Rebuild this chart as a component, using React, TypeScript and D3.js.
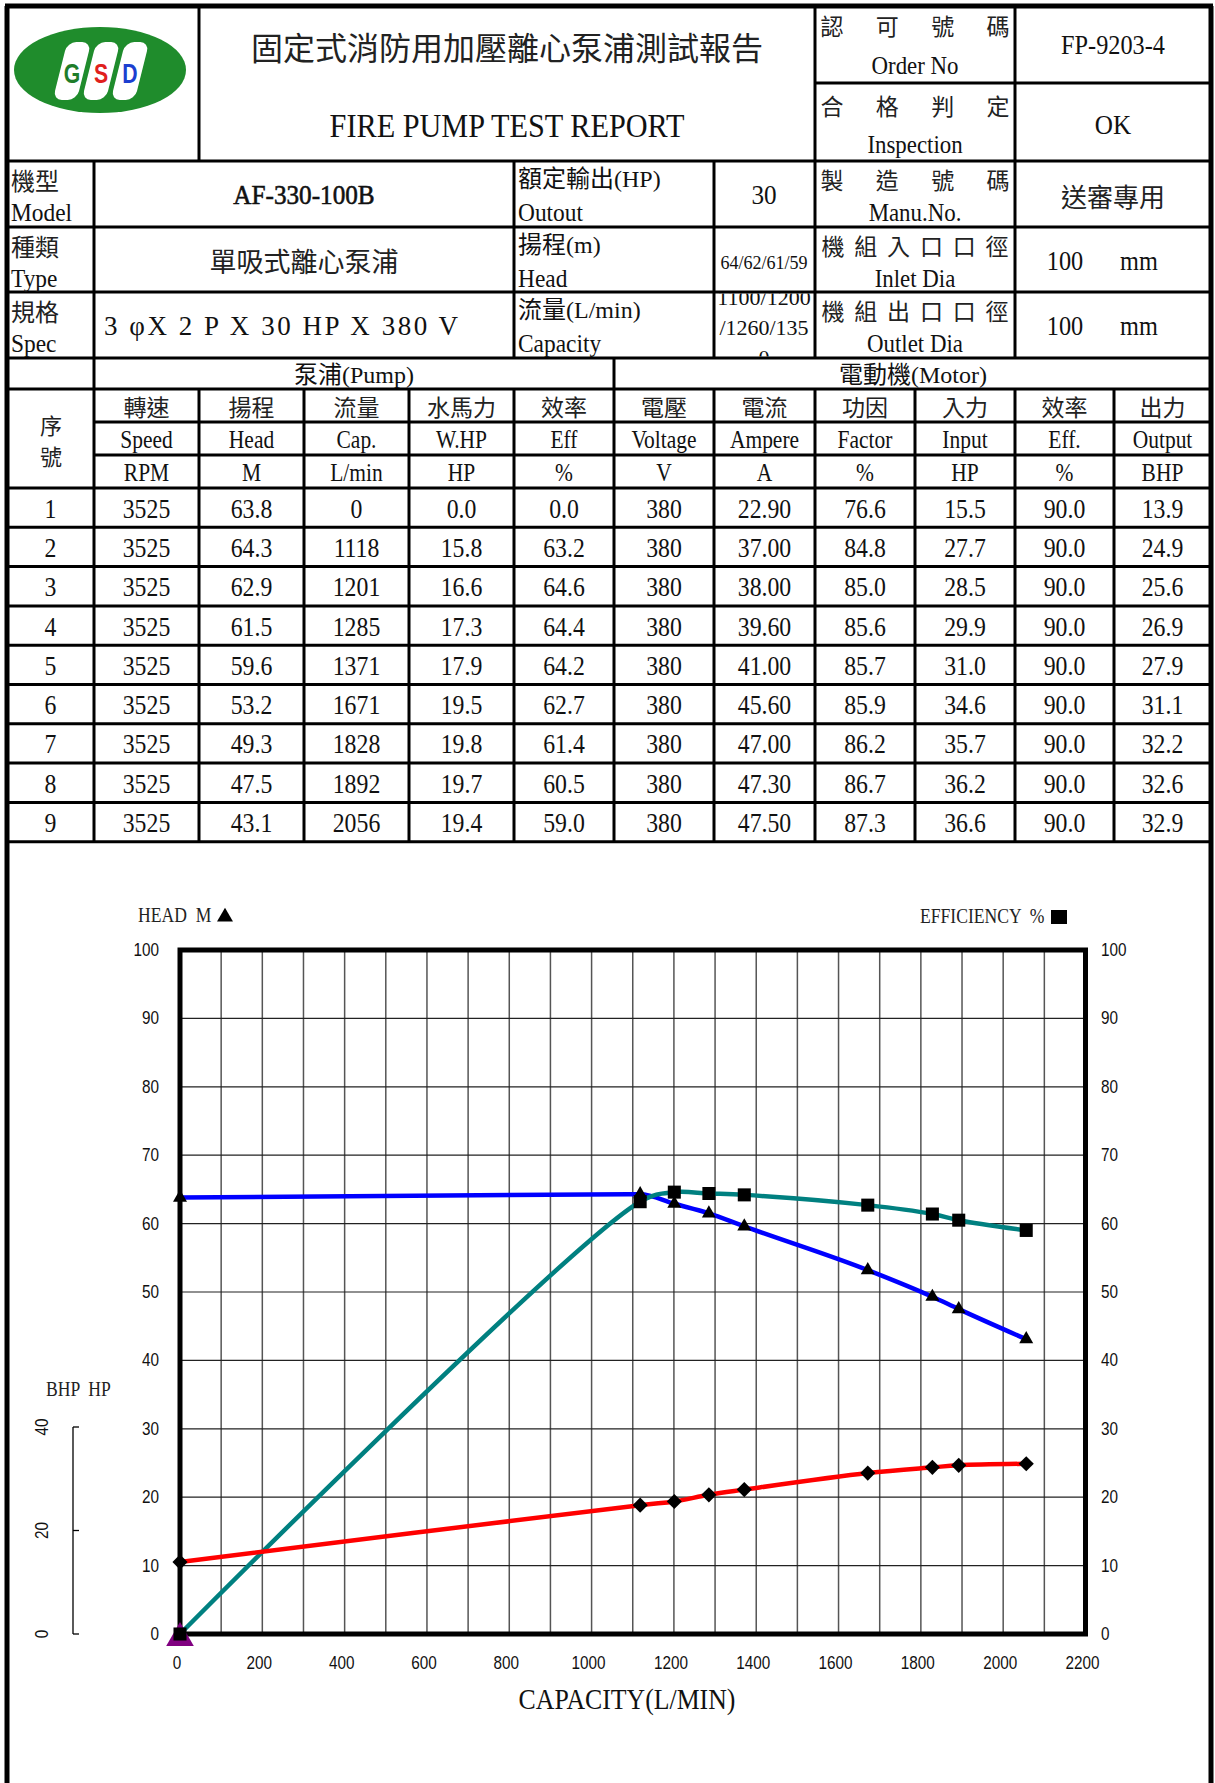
import React from "react";
import * as d3 from "d3";

const SERIF = "'Liberation Serif', 'Noto Sans CJK TC', serif";
const CJK = "'Noto Sans CJK TC', 'Liberation Serif', serif";
const SANS = "'Liberation Sans', 'DejaVu Sans', sans-serif";

// ---- test data ----
const rowNo = [1, 2, 3, 4, 5, 6, 7, 8, 9];
const speed = [3525, 3525, 3525, 3525, 3525, 3525, 3525, 3525, 3525];
const head = [63.8, 64.3, 62.9, 61.5, 59.6, 53.2, 49.3, 47.5, 43.1];
const capacity = [0, 1118, 1201, 1285, 1371, 1671, 1828, 1892, 2056];
const whp = [0.0, 15.8, 16.6, 17.3, 17.9, 19.5, 19.8, 19.7, 19.4];
const pumpEff = [0.0, 63.2, 64.6, 64.4, 64.2, 62.7, 61.4, 60.5, 59.0];
const voltage = [380, 380, 380, 380, 380, 380, 380, 380, 380];
const ampere = [22.9, 37.0, 38.0, 39.6, 41.0, 45.6, 47.0, 47.3, 47.5];
const powerFactor = [76.6, 84.8, 85.0, 85.6, 85.7, 85.9, 86.2, 86.7, 87.3];
const inputHp = [15.5, 27.7, 28.5, 29.9, 31.0, 34.6, 35.7, 36.2, 36.6];
const motorEff = [90.0, 90.0, 90.0, 90.0, 90.0, 90.0, 90.0, 90.0, 90.0];
const bhp = [13.9, 24.9, 25.6, 26.9, 27.9, 31.1, 32.2, 32.6, 32.9];

const colZh = ["轉速", "揚程", "流量", "水馬力", "效率", "電壓", "電流", "功因", "入力", "效率", "出力"];
const colEn = ["Speed", "Head", "Cap.", "W.HP", "Eff", "Voltage", "Ampere", "Factor", "Input", "Eff.", "Output"];
const colUnit = ["RPM", "M", "L/min", "HP", "%", "V", "A", "%", "HP", "%", "BHP"];

const xTicks = d3.range(0, 2201, 200);
const yTicks = d3.range(0, 101, 10);
const bhpTicks = [0, 20, 40];

const T = ({ x, y, s = 26, sx = 1, a = "middle", f = SERIF, fill = "#111", children, ...rest }: any) => (
  <text
    transform={`translate(${x},${y}) scale(${sx},1)`}
    textAnchor={a}
    dominantBaseline="central"
    fontSize={s}
    fontFamily={f}
    fill={fill}
    style={{ whiteSpace: "pre" }}
    {...rest}
  >
    {children}
  </text>
);

const Spread = ({ text, x0, x1, y, s = 23 }: any) => {
  const chars = Array.from(text as string);
  const sc = d3.scalePoint().domain(chars.map((_, i) => String(i))).range([x0, x1]);
  return (
    <>
      {chars.map((c, i) => (
        <T key={i} x={sc(String(i))} y={y} s={s} f={CJK} fill="#222">
          {c}
        </T>
      ))}
    </>
  );
};

export default function App() {
  const W = 1215;
  const H = 1783;

  // table layout
  const L = 7;
  const R = 1211;
  const colX = [L, 94, 199, 304, 409, 514, 614, 714, 815, 915, 1015, 1114, R];
  const yTop = 6, ySplit = 83, yHead = 161, yR3 = 227, yR4 = 292, yR5 = 358, yH1 = 389, yH2 = 422, yH3 = 455, yData = 488;
  const rowH = 39.3;
  const yEnd = yData + rowNo.length * rowH;

  const tableRows = rowNo.map((n, i) => [
    String(n),
    String(speed[i]),
    head[i].toFixed(1),
    String(capacity[i]),
    whp[i].toFixed(1),
    pumpEff[i].toFixed(1),
    String(voltage[i]),
    ampere[i].toFixed(2),
    powerFactor[i].toFixed(1),
    inputHp[i].toFixed(1),
    motorEff[i].toFixed(1),
    bhp[i].toFixed(1),
  ]);

  const hLines: [number, number, number][] = [
    [ySplit, 815, R],
    [yHead, L, R],
    [yR3, L, R],
    [yR4, L, R],
    [yR5, L, R],
    [yH1, L, R],
    [yH2, 94, R],
    [yH3, 94, R],
    ...d3.range(0, rowNo.length + 1).map((i) => [yData + i * rowH, L, R] as [number, number, number]),
  ];
  const vLines: [number, number, number][] = [
    [199, yTop, yHead],
    [815, yTop, yHead],
    [1015, yTop, yHead],
    ...[94, 514, 714, 815, 1015].map((v) => [v, yHead, yR5] as [number, number, number]),
    [94, yR5, yH1],
    [614, yR5, yH1],
    ...colX.slice(1, -1).map((v) => [v, yH1, yEnd] as [number, number, number]),
  ];

  // chart scales
  const x = d3.scaleLinear().domain([0, 2200]).range([180, 1085.5]);
  const y = d3.scaleLinear().domain([0, 100]).range([1634, 950]);
  const yBhp = d3.scaleLinear().domain([0, 40]).range([1634, 1427]);

  const mkLine = (vals: number[], sc: any, curve: any) =>
    d3
      .line<number>()
      .x((_, i) => x(capacity[i]))
      .y((d) => sc(d))
      .curve(curve)(vals) as string;

  const tri = d3.symbol(d3.symbolTriangle, 85)() as string;
  const sq = d3.symbol(d3.symbolSquare, 170)() as string;
  const dia = d3.symbol(d3.symbolSquare, 115)() as string;
  const bigTri = d3.symbol(d3.symbolTriangle, 330)() as string;
  const legTri = d3.symbol(d3.symbolTriangle, 110)() as string;

  const gridX = d3.range(100, 2200, 100);
  const gridY = d3.range(10, 100, 10);

  const leaves = [72, 101, 130];
  const letters = [
    { t: "G", c: "#1e7d2a" },
    { t: "S", c: "#e0201c" },
    { t: "D", c: "#1c3fd0" },
  ];

  return (
    <svg width={W} height={H} viewBox={`0 0 ${W} ${H}`} style={{ position: "absolute", left: 0, top: 0 }}>
      <rect width={W} height={H} fill="#fff" />

      {/* logo */}
      <ellipse cx={100} cy={70} rx={86} ry={43} fill="#1f8c2c" />
      {leaves.map((cx, i) => (
        <g key={i}>
          <rect x={-12} y={-29} width={24} height={58} rx={9} fill="#fff" transform={`translate(${cx},71) skewX(-14)`} />
          <text
            x={cx}
            y={73}
            textAnchor="middle"
            dominantBaseline="central"
            fontFamily={SANS}
            fontWeight="bold"
            fontSize={25}
            fill={letters[i].c}
            transform={`translate(${cx},0) scale(0.85,1.1) translate(${-cx},-6)`}
          >
            {letters[i].t}
          </text>
        </g>
      ))}

      {/* table lines */}
      <g stroke="#000" strokeWidth={3}>
        {hLines.map(([yy, x0, x1], i) => (
          <line key={"h" + i} x1={x0} x2={x1} y1={yy} y2={yy} />
        ))}
        {vLines.map(([xx, y0, y1], i) => (
          <line key={"v" + i} x1={xx} x2={xx} y1={y0} y2={y1} />
        ))}
      </g>
      <g stroke="#000" strokeWidth={5}>
        <line x1={L - 2} x2={R + 2} y1={yTop} y2={yTop} />
        <line x1={L} x2={L} y1={yTop} y2={H} />
        <line x1={R} x2={R} y1={yTop} y2={H} />
      </g>

      {/* header */}
      <T x={507} y={46} s={32} f={CJK} fill="#222">固定式消防用加壓離心泵浦測試報告</T>
      <T x={507} y={125} s={34} sx={0.89}>FIRE PUMP TEST REPORT</T>
      <Spread text="認可號碼" x0={832} x1={998} y={25} />
      <T x={915} y={65} s={26} sx={0.88}>Order No</T>
      <T x={1113} y={45} s={27} sx={0.9}>FP-9203-4</T>
      <Spread text="合格判定" x0={832} x1={998} y={105} />
      <T x={915} y={144} s={26} sx={0.88}>Inspection</T>
      <T x={1113} y={125} s={28} sx={0.9}>OK</T>

      {/* spec rows */}
      <T x={11} y={179} s={24} a="start" f={CJK} fill="#222">機型</T>
      <T x={11} y={212} s={26} a="start" sx={0.9}>Model</T>
      <T x={11} y={245} s={24} a="start" f={CJK} fill="#222">種類</T>
      <T x={11} y={278} s={26} a="start" sx={0.9}>Type</T>
      <T x={11} y={310} s={24} a="start" f={CJK} fill="#222">規格</T>
      <T x={11} y={343} s={26} a="start" sx={0.9}>Spec</T>

      <T x={304} y={195} s={28} sx={0.9} stroke="#111" strokeWidth={0.6}>AF-330-100B</T>
      <T x={304} y={260} s={27} f={CJK} fill="#222">單吸式離心泵浦</T>
      <text x={104} y={326} dominantBaseline="central" fontSize={27} fontFamily={SERIF} fill="#111" textLength={354} lengthAdjust="spacing">
        3 φX 2 P X 30 HP X 380 V
      </text>

      <T x={518} y={179} s={24} a="start">額定輸出(HP)</T>
      <T x={518} y={212} s={26} a="start" sx={0.9}>Outout</T>
      <T x={518} y={245} s={24} a="start">揚程(m)</T>
      <T x={518} y={278} s={26} a="start" sx={0.9}>Head</T>
      <T x={518} y={310} s={24} a="start">流量(L/min)</T>
      <T x={518} y={343} s={26} a="start" sx={0.9}>Capacity</T>

      <T x={764} y={195} s={28} sx={0.9}>30</T>
      <T x={764} y={262} s={19} sx={0.95}>64/62/61/59</T>
      <clipPath id="capClip">
        <rect x={716} y={yR4 + 1.5} width={97} height={yR5 - yR4 - 3} />
      </clipPath>
      <g clipPath="url(#capClip)">
        <T x={764} y={297} s={22}>1100/1200</T>
        <T x={764} y={327} s={22}>/1260/135</T>
        <T x={764} y={357} s={22}>0</T>
      </g>

      <Spread text="製造號碼" x0={832} x1={998} y={179} />
      <T x={915} y={212} s={26} sx={0.88}>Manu.No.</T>
      <Spread text="機組入口口徑" x0={833} x1={997} y={245} />
      <T x={915} y={278} s={26} sx={0.88}>Inlet Dia</T>
      <Spread text="機組出口口徑" x0={833} x1={997} y={310} />
      <T x={915} y={343} s={26} sx={0.88}>Outlet Dia</T>

      <T x={1113} y={195} s={26} f={CJK} fill="#222">送審專用</T>
      <T x={1065} y={261} s={27} sx={0.9}>100</T>
      <T x={1139} y={261} s={27} sx={0.9}>mm</T>
      <T x={1065} y={326} s={27} sx={0.9}>100</T>
      <T x={1139} y={326} s={27} sx={0.9}>mm</T>

      <T x={354} y={375} s={24}>泵浦(Pump)</T>
      <T x={913} y={375} s={24}>電動機(Motor)</T>

      {/* column headings */}
      <T x={51} y={424} s={22} f={CJK} fill="#222">序</T>
      <T x={51} y={455} s={22} f={CJK} fill="#222">號</T>
      {colZh.map((c, i) => {
        const cx = (colX[i + 1] + colX[i + 2]) / 2;
        return (
          <g key={"hd" + i}>
            <T x={cx} y={406} s={23} f={CJK} fill="#222">{c}</T>
            <T x={cx} y={439} s={25} sx={0.86}>{colEn[i]}</T>
            <T x={cx} y={472} s={25} sx={0.86}>{colUnit[i]}</T>
          </g>
        );
      })}

      {/* data rows */}
      {tableRows.map((row, r) =>
        row.map((v, c) => (
          <T key={`d${r}-${c}`} x={(colX[c] + colX[c + 1]) / 2} y={yData + (r + 0.5) * rowH + 1} s={27} sx={0.88}>
            {v}
          </T>
        ))
      )}

      {/* ---- chart ---- */}
      <g>
        {gridX.map((v) => (
          <line key={"gx" + v} x1={x(v)} x2={x(v)} y1={y(100)} y2={y(0)} stroke="#555" strokeWidth={1.5} />
        ))}
        {gridY.map((v) => (
          <line key={"gy" + v} x1={x(0)} x2={x(2200)} y1={y(v)} y2={y(v)} stroke="#222" strokeWidth={1.2} />
        ))}
        <rect x={x(0)} y={y(100)} width={x(2200) - x(0)} height={y(0) - y(100)} fill="none" stroke="#000" strokeWidth={5} />

        {yTicks.map((v) => (
          <g key={"yt" + v}>
            <T x={159} y={y(v)} s={18} sx={0.85} a="end" f={SANS}>{String(v)}</T>
            <T x={1101} y={y(v)} s={18} sx={0.85} a="start" f={SANS}>{String(v)}</T>
          </g>
        ))}
        {xTicks.map((v) => (
          <T key={"xt" + v} x={x(v) - 3} y={1663} s={18} sx={0.85} f={SANS}>{String(v)}</T>
        ))}

        <T x={138} y={915} s={20} sx={0.88} a="start" fill="#222">HEAD  M</T>
        <path d={legTri} transform="translate(225,917)" fill="#000" />
        <T x={920} y={916} s={20} sx={0.88} a="start" fill="#222">EFFICIENCY  %</T>
        <rect x={1051} y={910} width={16} height={14} fill="#000" />
        <T x={46} y={1389} s={20} sx={0.88} a="start" fill="#222">BHP  HP</T>
        <T x={627} y={1699} s={30} sx={0.86}>CAPACITY(L/MIN)</T>

        {/* BHP axis */}
        <line x1={73} x2={73} y1={yBhp(0)} y2={yBhp(40)} stroke="#000" strokeWidth={1.3} />
        {bhpTicks.map((v) => (
          <g key={"bt" + v}>
            <line x1={73} x2={79} y1={yBhp(v)} y2={yBhp(v)} stroke="#000" strokeWidth={1.3} />
            <text
              transform={`translate(42,${yBhp(v)}) rotate(-90) scale(0.85,1)`}
              textAnchor="middle"
              dominantBaseline="central"
              fontSize={18}
              fontFamily={SANS}
              fill="#111"
            >
              {v}
            </text>
          </g>
        ))}

        {/* curves */}
        <path d={mkLine(head, y, d3.curveMonotoneX)} fill="none" stroke="#0000ff" strokeWidth={4.5} />
        <path d={mkLine(pumpEff, y, d3.curveCatmullRom.alpha(0.5))} fill="none" stroke="#008080" strokeWidth={4.5} />
        <path d={mkLine(bhp, yBhp, d3.curveCatmullRom.alpha(0.5))} fill="none" stroke="#ff0000" strokeWidth={4.5} />

        {/* markers */}
        <path d={bigTri} transform={`translate(${x(capacity[0])},${y(pumpEff[0]) + 4})`} fill="#800080" />
        {head.map((v, i) => (
          <path key={"mh" + i} d={tri} transform={`translate(${x(capacity[i])},${y(v)})`} fill="#000" />
        ))}
        {pumpEff.map((v, i) => (
          <path key={"me" + i} d={sq} transform={`translate(${x(capacity[i])},${y(v)})`} fill="#000" />
        ))}
        {bhp.map((v, i) => (
          <path key={"mb" + i} d={dia} transform={`translate(${x(capacity[i])},${yBhp(v)}) rotate(45)`} fill="#000" />
        ))}
      </g>
    </svg>
  );
}
